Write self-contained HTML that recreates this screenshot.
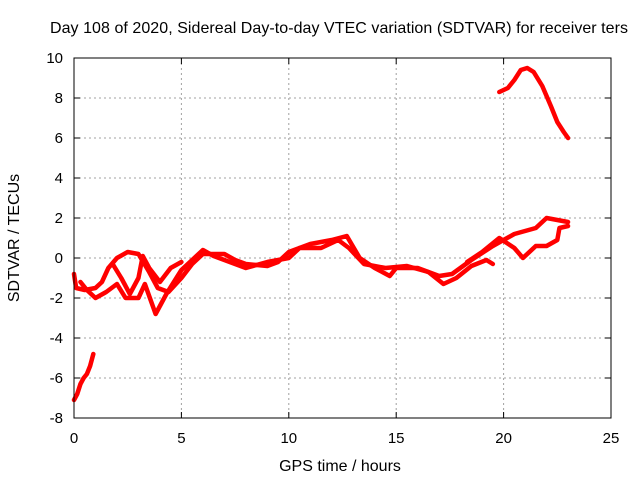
<!DOCTYPE html>
<html><head><meta charset="utf-8"><style>
body{margin:0;background:#fff}
svg text{font-family:"Liberation Sans",sans-serif;font-size:15px;fill:#000}
svg text.big{font-size:16px}
</style></head><body>
<svg id="chart" width="640" height="480">
<text class="big" x="339" y="33" text-anchor="middle" textLength="578">Day 108 of 2020, Sidereal Day-to-day VTEC variation (SDTVAR) for receiver ters</text>
<text class="big" x="340" y="471" text-anchor="middle">GPS time / hours</text>
<text class="big" transform="translate(19,238) rotate(-90)" text-anchor="middle">SDTVAR / TECUs</text>
<g id="grid"></g><g id="ticks"></g><g id="series"></g>
<rect x="74" y="58" width="537" height="360" fill="none" stroke="#000"/>
</svg>
<script>
const xTicks=[0,5,10,15,20,25];
const yTicks=[-8,-6,-4,-2,0,2,4,6,8,10];
const traceEarly=[[0,-7.1],[0.15,-6.8],[0.3,-6.3],[0.45,-6],[0.6,-5.8],[0.75,-5.4],[0.9,-4.8]];
const traceLate=[[19.8,8.3],[20.2,8.5],[20.5,8.9],[20.8,9.4],[21.1,9.5],[21.4,9.3],[21.8,8.6],[22.2,7.6],[22.5,6.8],[22.8,6.3],[23,6]];
const traceMain=[[0,-0.8],[0.1,-1.5],[0.5,-1.6],[1,-1.5],[1.3,-1.2],[1.6,-0.5],[2,0],[2.5,0.3],[3,0.2],[3.5,-0.7],[3.9,-1.5],[4.4,-1.7],[5,-1],[5.5,-0.3],[6,0.2],[7,0.2],[7.5,-0.1],[8,-0.3],[9,-0.4],[9.5,-0.2],[10,0.3],[11,0.7],[12,0.9],[12.7,1.1],[13.3,0],[14,-0.5],[14.7,-0.9],[15,-0.5],[16,-0.5],[17,-0.9],[17.6,-0.8],[18.5,-0.1],[19.5,0.6],[20.5,1.2],[21.5,1.5],[22,2],[23,1.8]];
const traceLoop=[[0.3,-1.2],[0.6,-1.6],[1,-2],[1.5,-1.7],[2,-1.3],[2.4,-2],[3,-2],[3.3,-1.3],[3.6,-2.2],[3.8,-2.8],[4.3,-1.8],[5,-0.6],[5.6,0],[6,0.4],[6.5,0.1],[7,-0.1],[8,-0.5],[9,-0.2],[10,0],[10.5,0.5],[11.5,0.5],[12.3,0.9],[12.8,0.5],[13.5,-0.3],[14.5,-0.5],[15.5,-0.4],[16.5,-0.7],[17.2,-1.3],[17.8,-1],[18.5,-0.4],[19.2,-0.1],[19.5,-0.3]];
const traceCross=[[1.8,-0.3],[2.2,-1],[2.6,-1.8],[3,-1],[3.2,0.1],[3.5,-0.5],[4,-1.2],[4.5,-0.5],[5,-0.2]];
const traceLateLoop=[[18.3,-0.2],[19,0.3],[19.8,1],[20.5,0.5],[20.9,0],[21.5,0.6],[22,0.6],[22.5,0.9],[22.6,1.5],[23,1.6]];
const xs=v=>74+v*21.48, ys=v=>258-v*20;
const NS="http://www.w3.org/2000/svg";
const g=document.getElementById('grid'),t=document.getElementById('ticks'),s=document.getElementById('series');
function mk(tag,a,p){const e=document.createElementNS(NS,tag);for(const k in a)e.setAttribute(k,a[k]);p.appendChild(e);return e;}
xTicks.forEach(v=>{const x=xs(v);
 if(v>0&&v<25){const l=mk('line',{x1:x,x2:x,y1:58,y2:418,stroke:'#a0a0a0','stroke-dasharray':'2,3'},g);
 
 }
 const tx=mk('text',{x:x,y:443,'text-anchor':'middle'},t);tx.textContent=v;
 
 
 mk('line',{x1:x,x2:x,y1:418,y2:412,stroke:'#000'},t);mk('line',{x1:x,x2:x,y1:58,y2:64,stroke:'#000'},t);});
yTicks.forEach(v=>{const y=ys(v);
 if(v>-8&&v<10){const l=mk('line',{x1:74,x2:611,y1:y,y2:y,stroke:'#a0a0a0','stroke-dasharray':'2,3'},g);
 
 }
 const tx=mk('text',{x:63,y:y+5,'text-anchor':'end'},t);tx.textContent=v;
 
 
 mk('line',{x1:74,x2:80,y1:y,y2:y,stroke:'#000'},t);mk('line',{x1:611,x2:605,y1:y,y2:y,stroke:'#000'},t);});
[traceEarly,traceLate,traceMain,traceLoop,traceCross,traceLateLoop].forEach(tr=>{
 const p=mk('polyline',{points:tr.map(d=>xs(d[0])+','+ys(d[1])).join(' '),fill:'none',stroke:'#ff0000','stroke-width':4.5,'stroke-linejoin':'round','stroke-linecap':'round'},s);
 
 
});
</script>
</body></html>
